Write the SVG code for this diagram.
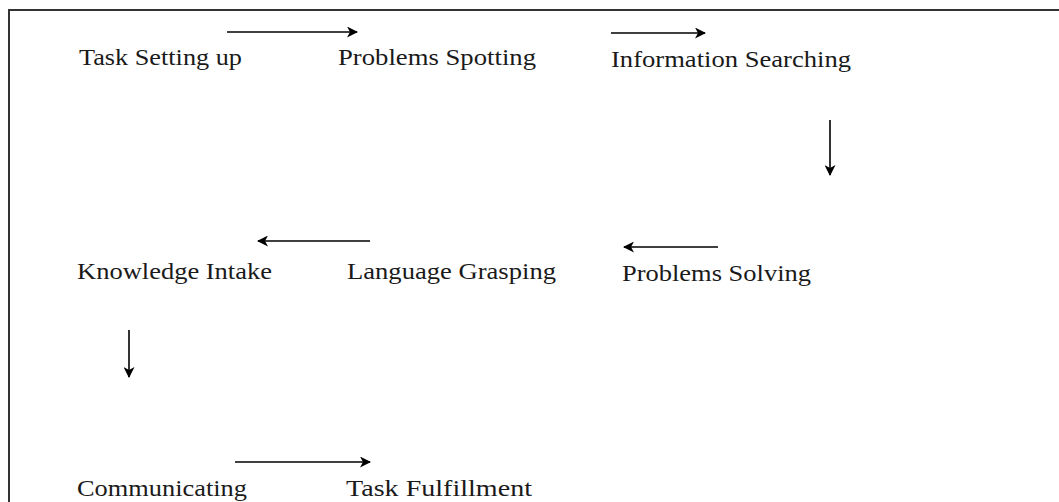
<svg xmlns="http://www.w3.org/2000/svg" width="1059" height="502" viewBox="0 0 1059 502">
<defs>
<marker id="ah" markerWidth="11" markerHeight="11" refX="10" refY="5.5" orient="auto" markerUnits="userSpaceOnUse">
<path d="M0,0 L11,5.5 L0,11 L3,5.5 Z" fill="#000"/>
</marker>
<style>
.t{font-family:"Liberation Serif","Times New Roman",serif;font-size:23px;fill:#1a1a1a}
.c{stroke:#000;stroke-width:1.6;fill:none}
</style>
</defs>
<rect x="0" y="0" width="1059" height="502" fill="#fff"/>
<rect x="9" y="10" width="1060" height="510" fill="none" stroke="#333" stroke-width="2"/>
<g id="n1"><text class="t" x="79" y="65" textLength="163" lengthAdjust="spacingAndGlyphs">Task Setting up</text></g>
<g id="n2"><text class="t" x="338" y="65" textLength="198" lengthAdjust="spacingAndGlyphs">Problems Spotting</text></g>
<g id="n3"><text class="t" x="611" y="67" textLength="240" lengthAdjust="spacingAndGlyphs">Information Searching</text></g>
<g id="n4"><text class="t" x="622" y="281" textLength="189" lengthAdjust="spacingAndGlyphs">Problems Solving</text></g>
<g id="n5"><text class="t" x="347" y="279" textLength="209" lengthAdjust="spacingAndGlyphs">Language Grasping</text></g>
<g id="n6"><text class="t" x="77" y="279" textLength="195" lengthAdjust="spacingAndGlyphs">Knowledge Intake</text></g>
<g id="n7"><text class="t" x="77" y="496" textLength="170" lengthAdjust="spacingAndGlyphs">Communicating</text></g>
<g id="n8"><text class="t" x="346" y="496" textLength="186" lengthAdjust="spacingAndGlyphs">Task Fulfillment</text></g>
<g id="connectors">
<line class="c" x1="227" y1="32" x2="357" y2="32" marker-end="url(#ah)"/>
<line class="c" x1="611" y1="33" x2="705" y2="33" marker-end="url(#ah)"/>
<line class="c" x1="830" y1="120" x2="830" y2="175" marker-end="url(#ah)"/>
<line class="c" x1="718" y1="247" x2="624" y2="247" marker-end="url(#ah)"/>
<line class="c" x1="370" y1="241" x2="258" y2="241" marker-end="url(#ah)"/>
<line class="c" x1="129" y1="330" x2="129" y2="377" marker-end="url(#ah)"/>
<line class="c" x1="235" y1="462" x2="370" y2="462" marker-end="url(#ah)"/>
</g>
</svg>
